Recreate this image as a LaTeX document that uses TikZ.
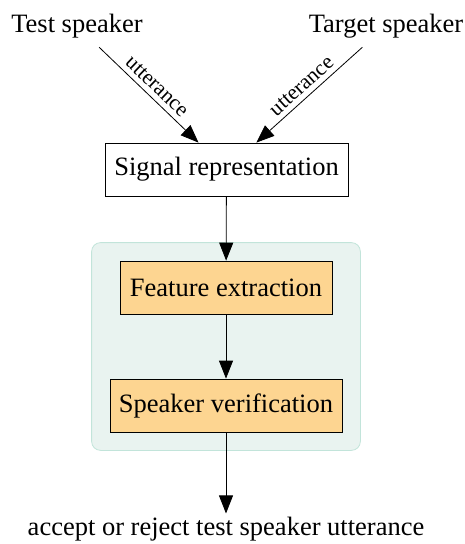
\documentclass[tikz,border=0pt]{standalone}
\usepackage{fontspec}
\setmainfont{Liberation Serif}
\usetikzlibrary{arrows.meta,fit,backgrounds}
\definecolor{panelfill}{HTML}{E9F3F0}
\definecolor{panelline}{HTML}{C2E4DA}
\definecolor{stagefill}{HTML}{FDD591}
\tikzset{
  x=1pt, y=-1pt,
  every node/.style={font=\fontsize{26.5}{30}\selectfont},
  source/.style={inner sep=9pt},
  plainbox/.style={draw, line width=0.8pt, minimum height=53pt, inner xsep=4pt, inner ysep=0pt},
  stagebox/.style={plainbox, fill=stagefill},
  flow/.style={line width=0.8pt, -{Triangle[length=18pt,width=14pt]}},
  edgelabel/.style={font=\fontsize{21.5}{24}\selectfont, sloped, above, inner sep=5pt},
}
\begin{document}
\begin{tikzpicture}
  \useasboundingbox (0,0) rectangle (465,544);

  \node[source] (ts) at (77,26) {Test speaker};
  \node[source] (tg) at (386,26) {Target speaker};

  \node[plainbox, minimum width=243pt] (sr) at (226.5,169.5) {Signal representation};
  \node[stagebox, minimum width=212pt] (fe) at (226,287.5) {Feature extraction};
  \node[stagebox, minimum width=232pt] (sv) at (226,405.5) {Speaker verification};

  \node (out) at (226,529) {accept or reject test speaker utterance};

  \begin{scope}[on background layer]
    \node[fit=(fe)(sv), inner sep=18pt, rounded corners=9pt,
          fill=panelfill, draw=panelline, line width=0.8pt] (panel) {};
  \end{scope}

  \draw[flow] (ts) -- node[edgelabel] {utterance} (sr);
  \draw[flow] (tg) -- node[edgelabel] {utterance} (sr);
  \draw[flow] (sr) -- (fe);
  \draw[flow] (fe) -- (sv);
  \draw[flow] (sv) -- (out);
\end{tikzpicture}
\end{document}
